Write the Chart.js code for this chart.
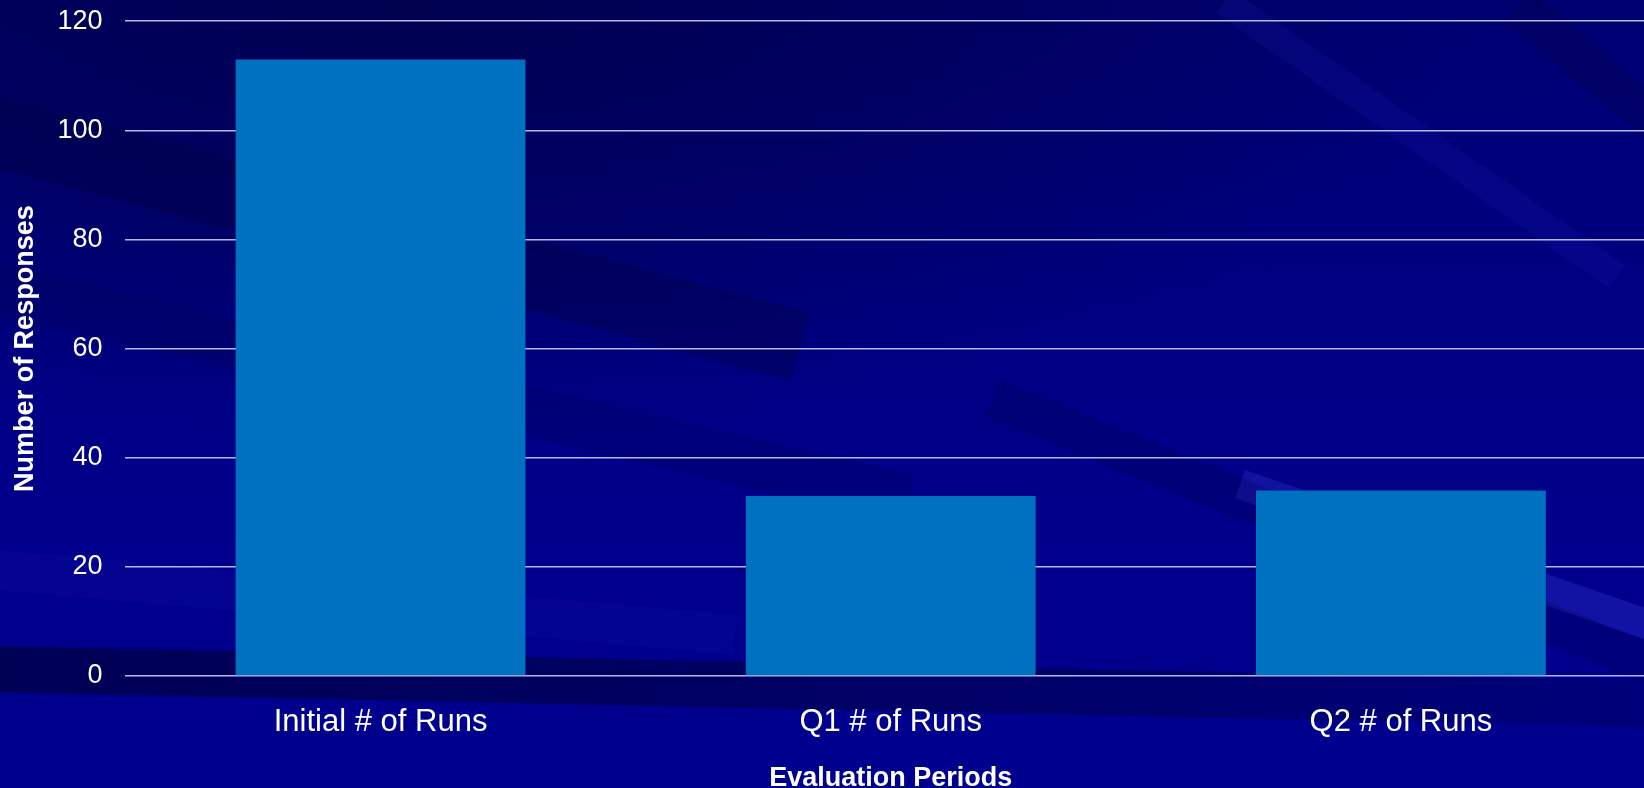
<!DOCTYPE html>
<html>
<head>
<meta charset="utf-8">
<script src="https://cdn.jsdelivr.net/npm/chart.js@4/dist/chart.umd.min.js"></script>
<style>
  html, body { margin:0; padding:0; width:1644px; height:788px; overflow:hidden; }
  body {
    position:relative;
    background-color:#000088;
    background-image:
      radial-gradient(ellipse 65% 55% at 25% 0%, rgba(0,0,50,0.55) 0%, rgba(0,0,50,0.3) 50%, rgba(0,0,50,0) 100%),
      linear-gradient(180deg, #000072 0%, #000082 40%, #00008c 70%, #00008e 100%);
  }
  .streak { position:absolute; transform-origin:0 0; }
  #wrap { position:absolute; left:0; top:0; width:1656px; height:788px; }
</style>
</head>
<body>
<!-- background streaks -->
<div class="streak" style="left:-60px; top:80px; width:900px; height:70px; background:rgba(0,0,55,0.3); transform:rotate(15deg);"></div>
<div class="streak" style="left:-60px; top:250px; width:1000px; height:50px; background:rgba(0,0,70,0.2); transform:rotate(13deg);"></div>
<div class="streak" style="left:-60px; top:545px; width:800px; height:40px; background:rgba(20,20,170,0.18); transform:rotate(5deg);"></div>
<div class="streak" style="left:-60px; top:645px; width:1800px; height:46px; background:linear-gradient(90deg, rgba(0,0,60,0.7), rgba(0,0,60,0.45) 60%, rgba(0,0,60,0.2)); transform:rotate(1.2deg);"></div>
<div class="streak" style="left:1245px; top:470px; width:520px; height:30px; background:rgba(60,60,220,0.3); transform:rotate(19deg);"></div>
<div class="streak" style="left:1232px; top:-10px; width:480px; height:28px; background:rgba(40,40,210,0.12); transform:rotate(35deg);"></div>
<div class="streak" style="left:1530px; top:-10px; width:300px; height:40px; background:rgba(0,0,60,0.25); transform:rotate(40deg);"></div>
<div class="streak" style="left:1000px; top:380px; width:800px; height:40px; background:rgba(0,0,60,0.2); transform:rotate(22deg);"></div>

<div id="wrap"><canvas id="chart"></canvas></div>
<script>
const categories = ['Initial # of Runs', 'Q1 # of Runs', 'Q2 # of Runs'];
const responses = [113, 33, 34];
const yTicks = [0, 20, 40, 60, 80, 100, 120];

const FONT = '"Liberation Sans", Arial, sans-serif';

const ctx = document.getElementById('chart').getContext('2d');
new Chart(ctx, {
    type: 'bar',
    data: {
        labels: categories,
        datasets: [{
            label: 'Number of Responses',
            data: responses,
            backgroundColor: '#0070c0',
            borderWidth: 0,
            categoryPercentage: 1,
            barPercentage: 0.568
        }]
    },
    options: {
        responsive: true,
        maintainAspectRatio: false,
        animation: false,
        layout: { padding: 0 },
        plugins: { legend: { display: false }, tooltip: { enabled: false } },
        scales: {
            x: {
                grid: { display: false, drawTicks: false },
                border: { display: false },
                ticks: { color: '#ffffff', font: { family: FONT, size: 31 }, padding: 28 },
                title: {
                    display: true,
                    text: 'Evaluation Periods',
                    color: '#ffffff',
                    font: { family: FONT, size: 27, weight: 'bold', lineHeight: 1 },
                    padding: { top: -3.7, bottom: -4.5 }
                }
            },
            y: {
                min: yTicks[0],
                max: yTicks[yTicks.length - 1],
                afterBuildTicks: axis => { axis.ticks = yTicks.map(v => ({ value: v })); },
                grid: { color: 'rgba(215,215,255,0.85)', lineWidth: 1.5, drawTicks: true, tickLength: 18, tickColor: 'rgba(0,0,0,0)' },
                border: { display: false },
                ticks: { color: '#ffffff', font: { family: FONT, size: 27 }, padding: 5 },
                title: {
                    display: true,
                    text: 'Number of Responses',
                    color: '#ffffff',
                    font: { family: FONT, size: 27, weight: 'bold', lineHeight: 1.2 },
                    padding: { top: 9, bottom: 11 }
                }
            }
        }
    }
});
</script>
</body>
</html>
